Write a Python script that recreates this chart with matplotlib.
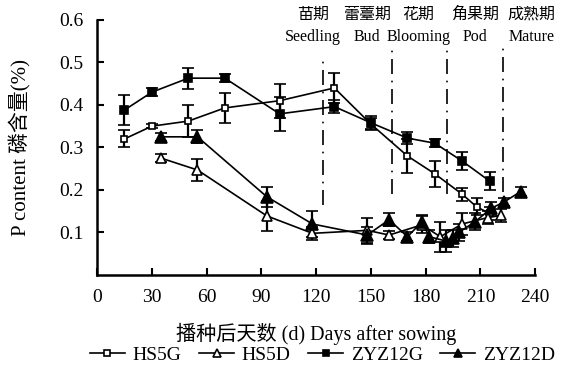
import matplotlib.pyplot as plt
from matplotlib.lines import Line2D

plt.rcParams['font.family'] = ['Liberation Serif', 'Noto Sans CJK SC']
plt.rcParams['font.size'] = 14

# days after sowing
days_g = [15, 30, 50, 70, 100, 130, 150, 170, 185, 200, 208, 215]
hs5g = [0.32, 0.35, 0.362, 0.393, 0.41, 0.44, 0.355, 0.28, 0.238, 0.19, 0.16, 0.145]
hs5g_err = [0.02, 0.005, 0.038, 0.035, 0.04, 0.035, 0.015, 0.04, 0.03, 0.015, 0.02, 0.015]

days_zg = [15, 30, 50, 70, 100, 130, 150, 170, 185, 200, 215]
zyz12g = [0.388, 0.43, 0.463, 0.463, 0.379, 0.396, 0.358, 0.322, 0.31, 0.268, 0.221]
zyz12g_err = [0.035, 0.01, 0.025, 0.01, 0.04, 0.015, 0.015, 0.015, 0.01, 0.022, 0.022]

days_d = [35, 55, 93, 118, 148, 160, 178, 188, 200, 214, 221]
hs5d = [0.275, 0.247, 0.139, 0.098, 0.105, 0.094, 0.118, 0.09, 0.12, 0.135, 0.14]
hs5d_err = [0.01, 0.025, 0.035, 0.015, 0.03, 0.01, 0.02, 0.035, 0.025, 0.015, 0.015]

days_zd = [35, 55, 93, 118, 148, 160, 170, 178, 182, 191, 195, 198, 207, 216, 223, 232]
zyz12d = [0.325, 0.325, 0.184, 0.12, 0.094, 0.13, 0.09, 0.125, 0.09, 0.08, 0.087, 0.1,
          0.125, 0.157, 0.172, 0.196]
zyz12d_err = [0.01, 0.015, 0.024, 0.03, 0.02, 0.015, 0.01, 0.015, 0.015, 0.025, 0.02,
              0.02, 0.02, 0.015, 0.01, 0.01]

# growth stage boundaries and labels
stage_x = [123.8, 161.6, 191.8, 222.5]
stage_bottom = [0.165, 0.19, 0.19, 0.195]
stage_top = [0.51, 0.54, 0.54, 0.54]
stage_pos = [118.4, 148, 176, 207, 238]
stage_cn = ['苗期', '蕾薹期', '花期', '角果期', '成熟期']
stage_en = ['Seedling', 'Bud', 'Blooming', 'Pod', 'Mature']

fig = plt.figure(figsize=(5.61, 3.83), dpi=100)
ax = fig.add_axes([0.173, 0.282, 0.781, 0.666])

common = dict(color='black', lw=1.2, elinewidth=1.6, capsize=4.5, capthick=1.6)
styles = [
    ('HS5G', 's', 5, 'white'),
    ('HS5D', '^', 7, 'white'),
    ('ZYZ12G', 's', 6, 'black'),
    ('ZYZ12D', '^', 8, 'black'),
]
series = [(days_g, hs5g, hs5g_err), (days_d, hs5d, hs5d_err),
          (days_zg, zyz12g, zyz12g_err), (days_zd, zyz12d, zyz12d_err)]

for (name, mk, ms, fc), (x, y, e) in zip(styles, series):
    ax.errorbar(x, y, yerr=e, marker=mk, ms=ms, mfc=fc, mec='black', mew=1.2, **common)

for x, y0, y1 in zip(stage_x, stage_bottom, stage_top):
    ax.plot([x, x], [y0, y1], color='black', lw=1.2, ls=(0, (9, 4, 1, 4)))

for x, cn, en in zip(stage_pos, stage_cn, stage_en):
    ax.text(x, 0.612, cn, ha='center', va='center', fontsize=11.5, clip_on=False)
    ax.text(x, 0.56, en, ha='center', va='center', fontsize=11.5, clip_on=False)

ax.set_xlim(0, 240)
ax.set_ylim(0, 0.6)
ax.set_xticks(range(0, 241, 30))
ax.set_yticks([0.1, 0.2, 0.3, 0.4, 0.5, 0.6])
ax.set_yticklabels(['0.1', '0.2', '0.3', '0.4', '0.5', '0.6'])
ax.tick_params(direction='in', length=5, width=1.5, pad=10)
for side in ['top', 'right']:
    ax.spines[side].set_visible(False)
for side in ['left', 'bottom']:
    ax.spines[side].set_linewidth(1.8)

ax.set_xlabel('播种后天数 (d) Days after sowing', labelpad=12, fontsize=14.5)
ax.set_ylabel('P content 磷含量(%)', labelpad=20, fontsize=15)

handles = [Line2D([], [], color='black', lw=1.2, marker=mk, ms=ms * 0.8, mfc=fc,
                  mec='black', mew=1.2) for name, mk, ms, fc in styles]
labels = [s[0] for s in styles]
fig.legend(handles, labels, loc='center', bbox_to_anchor=(0.575, 0.073), ncol=4,
           frameon=False, handlelength=1.8, handletextpad=0.4, columnspacing=0.9,
           fontsize=14)

fig.savefig('out.png', dpi=100)
